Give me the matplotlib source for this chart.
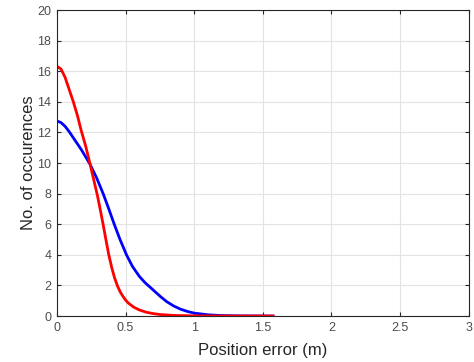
import matplotlib
matplotlib.use("Agg")
import matplotlib.pyplot as plt

# values
red_x = [0.0, 0.03, 0.06, 0.09, 0.12, 0.15, 0.175, 0.21, 0.24, 0.27, 0.296,
         0.316, 0.337, 0.357, 0.378, 0.40, 0.42, 0.442, 0.46, 0.48, 0.50,
         0.52, 0.56, 0.60, 0.65, 0.70, 0.75, 0.85, 1.0, 1.2, 1.574]
red_y = [16.33, 16.15, 15.6, 14.8, 14.0, 13.1, 12.2, 11.1, 10.0, 8.85, 7.85,
         6.95, 5.98, 5.0, 4.0, 3.15, 2.5, 1.95, 1.6, 1.3, 1.05,
         0.85, 0.58, 0.4, 0.25, 0.16, 0.1, 0.04, 0.01, 0.0, 0.0]

blue_x = [0.0, 0.03, 0.06, 0.09, 0.12, 0.15, 0.18, 0.21, 0.24, 0.29, 0.337,
          0.377, 0.417, 0.46, 0.507, 0.55, 0.60, 0.64, 0.677, 0.72, 0.76,
          0.80, 0.85, 0.90, 0.95, 1.0, 1.1, 1.2, 1.35, 1.574]
blue_y = [12.75, 12.65, 12.4, 12.05, 11.65, 11.25, 10.85, 10.4, 9.95, 9.02, 8.0,
          7.03, 6.02, 5.0, 4.0, 3.25, 2.6, 2.2, 1.9, 1.55, 1.23,
          0.94, 0.66, 0.45, 0.3, 0.19, 0.08, 0.03, 0.008, 0.0]

x_ticks = [0, 0.5, 1, 1.5, 2, 2.5, 3]
x_tick_labels = ["0", "0.5", "1", "1.5", "2", "2.5", "3"]
y_ticks = list(range(0, 21, 2))

plt.rcParams["font.family"] = ["Liberation Sans", "DejaVu Sans"]

fig = plt.figure(figsize=(4.74, 3.62), dpi=100)
ax = fig.add_axes([0.120, 0.127, 0.869, 0.845])

ax.plot(blue_x, blue_y, color="#0000ff", lw=2.0, solid_joinstyle="round")
ax.plot(red_x, red_y, color="#ff0000", lw=2.0, solid_joinstyle="round")

ax.set_xlim(0, 3)
ax.set_ylim(0, 20)
ax.set_xticks(x_ticks)
ax.set_xticklabels(x_tick_labels)
ax.set_yticks(y_ticks)

ax.grid(True, color="#e3e3e3", lw=0.8)
ax.set_axisbelow(True)
ax.tick_params(direction="in", top=True, right=True, length=3,
               labelsize=9, colors="#262626", labelcolor="#4d4d4d", pad=4)
for s in ax.spines.values():
    s.set_color("#262626")
    s.set_linewidth(0.8)

ax.set_xlabel("Position error (m)", fontsize=12, color="#262626", labelpad=7)
ax.set_ylabel("No. of occurences", fontsize=12, color="#262626", labelpad=1)

fig.savefig("out.png", dpi=100)
